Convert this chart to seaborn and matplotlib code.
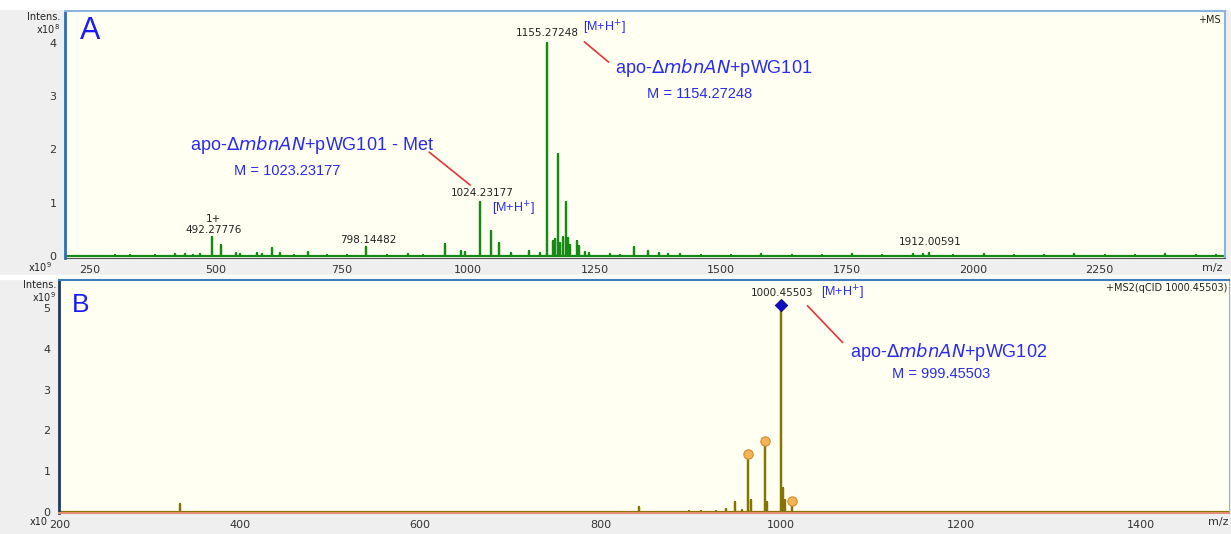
import pandas as pd
import matplotlib.pyplot as plt
import seaborn as sns
from matplotlib.ticker import MultipleLocator
from matplotlib.patches import Rectangle

# panel A: full MS scan, intensity in units of 1e8
a_mz = [492.28, 510, 540, 548, 583, 592, 612, 628, 683, 798.14, 955, 985, 993,
        1024.23, 1046, 1062, 1085, 1121, 1142, 1155.27, 1156.3, 1168, 1172,
        1177.25, 1181, 1188, 1193.2, 1198, 1202, 1215, 1220, 1232, 1240,
        1329, 1355, 1378, 1395, 1912.01]
a_int = [0.36, 0.20, 0.05, 0.04, 0.05, 0.04, 0.14, 0.05, 0.07, 0.16, 0.23, 0.09, 0.07,
         1.02, 0.46, 0.24, 0.05, 0.10, 0.06, 4.00, 1.55, 0.28, 0.32,
         1.92, 0.25, 0.35, 1.02, 0.34, 0.20, 0.28, 0.18, 0.08, 0.06,
         0.16, 0.10, 0.05, 0.03, 0.05]
a_noise_mz = [300, 330, 380, 420, 440, 455, 470, 655, 720, 760, 840, 880, 910, 1280,
              1300, 1420, 1460, 1520, 1580, 1640, 1700, 1760, 1820, 1880, 1900, 1960,
              2020, 2080, 2140, 2200, 2260, 2320, 2380, 2440, 2480]
a_noise_int = [0.02, 0.02, 0.02, 0.03, 0.03, 0.02, 0.03, 0.02, 0.02, 0.02, 0.02, 0.03,
               0.02, 0.03, 0.02, 0.03, 0.02, 0.02, 0.03, 0.02, 0.02, 0.03, 0.02, 0.03,
               0.03, 0.02, 0.03, 0.02, 0.02, 0.03, 0.02, 0.02, 0.03, 0.02, 0.02]
a_range = (200, 2505)

# panel B: MS2 of 1000.45503, intensity in units of 1e9
b_mz = [333, 843, 898, 912, 928, 940, 949, 957, 964.4, 967, 982.4, 985,
        1000.45, 1002.5, 1005, 1013]
b_int = [0.19, 0.12, 0.03, 0.04, 0.03, 0.08, 0.24, 0.05, 1.42, 0.30, 1.75, 0.25,
         5.00, 0.60, 0.30, 0.27]
b_frag_mz = [964.4, 982.4, 1013]
b_frag_int = [1.42, 1.75, 0.27]
b_prec_mz = [1000.45]
b_prec_int = [5.07]
b_range = (198, 1500)


def stick_frame(mz, inten, lo, hi):
    rows = [(lo, 0.0)]
    for m, i in sorted(zip(mz, inten)):
        rows += [(m, 0.0), (m, i), (m, 0.0)]
    rows.append((hi, 0.0))
    return pd.DataFrame(rows, columns=['mz', 'intensity'])


sns.set_style('white')
plt.rcParams['font.family'] = ['DejaVu Sans']

W, H = 1231, 534
fig = plt.figure(figsize=(W / 100, H / 100), dpi=100, facecolor='#efefef')
fig.patches.append(Rectangle((0, 1 - 9 / H), 1, 9 / H, transform=fig.transFigure,
                             color='white', zorder=-1))
fig.patches.append(Rectangle((0, 1 - 279 / H), 1, 4 / H, transform=fig.transFigure,
                             color='white', zorder=-1))


def make_axes(l, t, r, b):
    return fig.add_axes([l / W, 1 - b / H, (r - l) / W, (b - t) / H])


ax_a = make_axes(65, 11, 1225, 258)
ax_b = make_axes(59, 280, 1229, 513)

blue_txt = '#2b2bf0'
red = '#e8333a'
ann_font = 'Liberation Sans'

for ax in (ax_a, ax_b):
    ax.set_facecolor('#fffff2')
    ax.tick_params(axis='both', which='both', direction='out', labelsize=8,
                   colors='#333333', length=4, width=0.8, pad=2)
    ax.tick_params(which='minor', length=2.5)
    ax.tick_params(axis='x', pad=1)

# ---- panel A ----
df_a = stick_frame(a_mz + a_noise_mz, a_int + a_noise_int, *a_range)
sns.lineplot(data=df_a, x='mz', y='intensity', sort=False, estimator=None,
             color='#158a15', lw=1.6, ax=ax_a)
ax_a.set_xlim(202, 2498)
ax_a.set_ylim(-0.04, 4.6)
ax_a.xaxis.set_major_locator(MultipleLocator(250))
ax_a.xaxis.set_minor_locator(MultipleLocator(50))
ax_a.yaxis.set_major_locator(MultipleLocator(1))
ax_a.yaxis.set_minor_locator(MultipleLocator(0.2))
ax_a.set_xlabel('')
ax_a.set_ylabel('')
ax_a.spines['left'].set_color('#2f6fb5')
ax_a.spines['left'].set_linewidth(2)
ax_a.spines['top'].set_color('#8ab4e0')
ax_a.spines['top'].set_linewidth(1.5)
ax_a.spines['right'].set_color('#8ab4e0')
ax_a.spines['right'].set_linewidth(1.5)
ax_a.spines['bottom'].set_color('#555555')

ax_a.text(232, 4.22, 'A', color='#1a1aff', fontsize=22, family=ann_font, va='center')
ax_a.text(0.996, 0.985, '+MS', transform=ax_a.transAxes, ha='right', va='top',
          fontsize=7, color='#222222')
ax_a.text(1157, 4.19, '1155.27248', ha='center', va='center', fontsize=7.5, color='#222222')
ax_a.text(1270, 4.28, '[M+H$^{+}$]', ha='center', va='center', fontsize=9,
          color=blue_txt, family=ann_font)
ax_a.plot([1230, 1278], [4.02, 3.64], color=red, lw=1.2)
ax_a.text(1290, 3.44, r'apo-$\Delta$$\it{mbnAN}$+pWG101', ha='left', va='baseline',
          fontsize=13, color=blue_txt, family=ann_font)
ax_a.text(1458, 2.97, 'M = 1154.27248', ha='center', va='baseline', fontsize=10.5,
          color=blue_txt, family=ann_font)
ax_a.text(450, 1.99, r'apo-$\Delta$$\it{mbnAN}$+pWG101 - Met', ha='left', va='baseline',
          fontsize=13, color=blue_txt, family=ann_font)
ax_a.text(641, 1.52, 'M = 1023.23177', ha='center', va='baseline', fontsize=10.5,
          color=blue_txt, family=ann_font)
ax_a.plot([922.6, 1004], [1.95, 1.33], color=red, lw=1.2)
ax_a.text(1028, 1.18, '1024.23177', ha='center', va='center', fontsize=7.5, color='#222222')
ax_a.text(1089, 0.88, '[M+H$^{+}$]', ha='center', va='center', fontsize=9,
          color=blue_txt, family=ann_font)
ax_a.text(496, 0.69, '1+', ha='center', va='center', fontsize=7.5, color='#222222')
ax_a.text(496, 0.49, '492.27776', ha='center', va='center', fontsize=7.5, color='#222222')
ax_a.text(803, 0.30, '798.14482', ha='center', va='center', fontsize=7.5, color='#222222')
ax_a.text(1915, 0.26, '1912.00591', ha='center', va='center', fontsize=7.5, color='#222222')

# ---- panel B ----
df_b = stick_frame(b_mz, b_int, *b_range)
sns.lineplot(data=df_b, x='mz', y='intensity', sort=False, estimator=None,
             color='#857400', lw=1.6, ax=ax_b)
sns.scatterplot(x=b_frag_mz, y=b_frag_int, marker='o', s=45, color='#f5b355',
                edgecolor='#d08a30', linewidth=0.8, zorder=5, ax=ax_b)
sns.scatterplot(x=b_prec_mz, y=b_prec_int, marker='D', s=40, color='#1010c0',
                edgecolor='#0a0a90', linewidth=0.6, zorder=5, ax=ax_b)
ax_b.set_xlim(199, 1498)
ax_b.set_ylim(-0.02, 5.68)
ax_b.xaxis.set_major_locator(MultipleLocator(200))
ax_b.xaxis.set_minor_locator(MultipleLocator(100))
ax_b.yaxis.set_major_locator(MultipleLocator(1))
ax_b.yaxis.set_minor_locator(MultipleLocator(0.2))
ax_b.set_xlabel('')
ax_b.set_ylabel('')
ax_b.spines['left'].set_color('#1f3a60')
ax_b.spines['left'].set_linewidth(2)
ax_b.spines['top'].set_color('#3d7cc0')
ax_b.spines['top'].set_linewidth(1.5)
ax_b.spines['right'].set_color('#8ab4e0')
ax_b.spines['bottom'].set_color('#e09070')
ax_b.spines['bottom'].set_linewidth(1.5)

ax_b.text(213, 5.07, 'B', color='#1a1aff', fontsize=19, family=ann_font, va='center')
ax_b.text(0.999, 0.985, '+MS2(qCID 1000.45503)', transform=ax_b.transAxes, ha='right',
          va='top', fontsize=7, color='#222222')
ax_b.text(1002, 5.37, '1000.45503', ha='center', va='center', fontsize=7.5, color='#222222')
ax_b.text(1069, 5.37, '[M+H$^{+}$]', ha='center', va='center', fontsize=9,
          color=blue_txt, family=ann_font)
ax_b.plot([1030, 1069], [5.05, 4.15], color=red, lw=1.2)
ax_b.text(1077, 3.80, r'apo-$\Delta$$\it{mbnAN}$+pWG102', ha='left', va='baseline',
          fontsize=13, color=blue_txt, family=ann_font)
ax_b.text(1178, 3.29, 'M = 999.45503', ha='center', va='baseline', fontsize=10.5,
          color=blue_txt, family=ann_font)


# ---- figure-level labels ----
def ftext(x, y, s, **kw):
    kw.setdefault('fontsize', 7)
    kw.setdefault('color', '#222222')
    fig.text(x / W, 1 - y / H, s, va='center', **kw)


ftext(60, 17, 'Intens.', ha='right')
ftext(60, 29, r'x10$^{8}$', ha='right')
ftext(52, 267, r'x10$^{9}$', ha='right')
ftext(1212, 268, 'm/z', ha='center', fontsize=8, color='#333333')
ftext(56, 285, 'Intens.', ha='right')
ftext(56, 297, r'x10$^{9}$', ha='right')
ftext(48, 522, 'x10', ha='right')
ftext(1218, 522, 'm/z', ha='center', fontsize=8, color='#333333')

fig.savefig('out.png', dpi=100, facecolor=fig.get_facecolor())
